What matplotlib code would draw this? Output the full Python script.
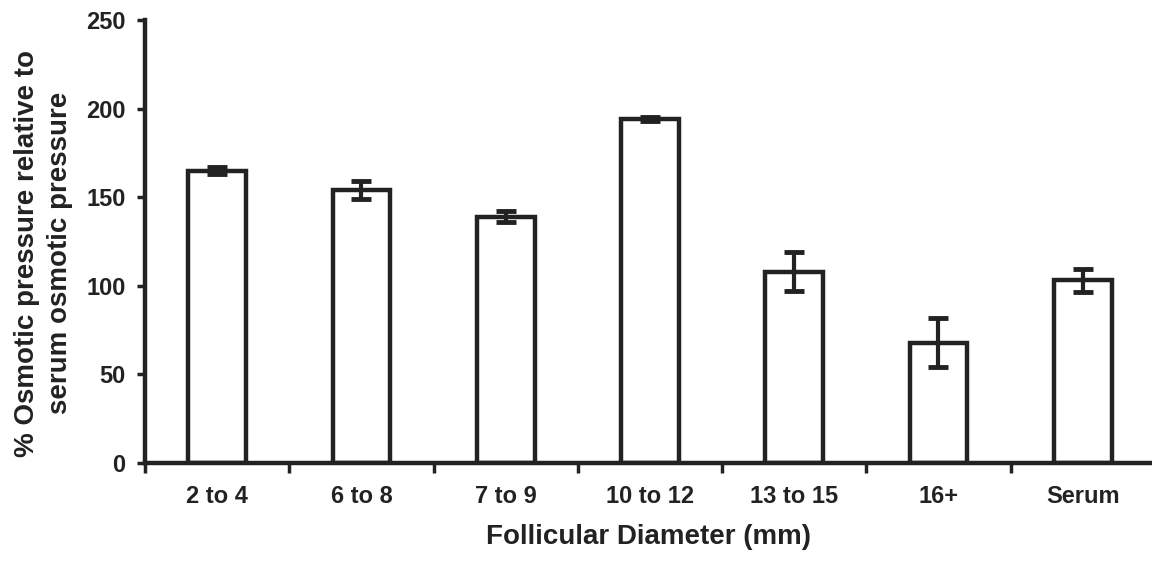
import matplotlib
matplotlib.use("Agg")
import matplotlib.pyplot as plt
import numpy as np

plt.rcParams['font.family'] = ['Liberation Sans', 'DejaVu Sans']
plt.rcParams['font.weight'] = 'bold'
plt.rcParams['axes.labelweight'] = 'bold'

# follicle size groups and osmotic pressure (% of serum)
categories = ["2 to 4", "6 to 8", "7 to 9", "10 to 12", "13 to 15", "16+", "Serum"]
osmotic = [165, 154, 139, 194, 108, 68, 103]
errors = [2, 5, 3, 1, 11, 14, 6.5]

ink = "#222222"

fig = plt.figure(figsize=(11.52, 5.67), dpi=100)
ax = fig.add_axes([0.1259, 0.1834, 0.8741, 0.7813])

x = np.arange(len(categories))
ax.bar(x, osmotic, width=0.4, color="white", edgecolor=ink, linewidth=3.2, zorder=2)
ax.errorbar(x, osmotic, yerr=errors, fmt="none", ecolor=ink, elinewidth=3,
            capsize=7, capthick=3.5, zorder=3)

ax.set_xlim(-0.5, 6.48)
ax.set_ylim(0, 250)
ax.set_yticks([0, 50, 100, 150, 200, 250])

# labels at bar centres, tick marks between groups
ax.set_xticks(x)
ax.set_xticklabels(categories)
ax.set_xticks(np.arange(-0.5, 6.5, 1), minor=True)
ax.tick_params(axis="x", which="major", length=0, pad=16, labelsize=17, colors=ink)
ax.tick_params(axis="x", which="minor", length=7, width=2.5, direction="out", color=ink)
ax.tick_params(axis="y", length=6, width=2.5, labelsize=17, pad=8, colors=ink)

for side in ["top", "right"]:
    ax.spines[side].set_visible(False)
for side in ["left", "bottom"]:
    ax.spines[side].set_linewidth(3.2)
    ax.spines[side].set_color(ink)

ax.set_xlabel("Follicular Diameter (mm)", fontsize=20, labelpad=11, color=ink)
ax.set_ylabel("% Osmotic pressure relative to\nserum osmotic pressure", fontsize=20,
              color=ink, linespacing=1.35)
ax.yaxis.set_label_coords(-0.072, 0.474)

fig.savefig("out.png", dpi=100)
